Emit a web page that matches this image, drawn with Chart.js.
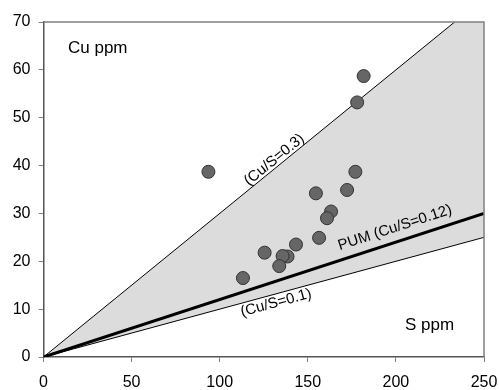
<!DOCTYPE html>
<html>
<head>
<meta charset="utf-8">
<script src="https://cdn.jsdelivr.net/npm/chart.js@4.4.1/dist/chart.umd.min.js"></script>
<style>
  html, body { margin: 0; padding: 0; background: #fff; }
  #wrap { width: 499px; height: 390px; }
</style>
</head>
<body>
<div id="wrap"><canvas id="cuS"></canvas></div>
<script>
// sample points (S ppm, Cu ppm)
const sPpm  = [181.7, 178, 93.6, 177, 154.6, 172.3, 163.2, 160.9, 156.4, 143.3, 125.5, 138.5, 135.7, 133.8, 113.2];
const cuPpm = [58.7, 53.2, 38.7, 38.7, 34.2, 34.9, 30.4, 29.0, 24.9, 23.5, 21.8, 21.0, 21.1, 19.0, 16.5];

// reference ratio lines (end points)
const line03X  = [0, 233.33, 250];
const line03Y  = [0, 70, 70];
const line012X = [0, 250];
const line012Y = [0, 30];
const line01X  = [0, 250];
const line01Y  = [0, 25];

// line labels: text, anchor x/y (data units), which line gives the angle
const lineLabels = [
  { text: '(Cu/S=0.3)', x: 131, y: 41.2, slope: 0.3 },
  { text: 'PUM (Cu/S=0.12)', x: 199.5, y: 27, slope: 0.12 },
  { text: '(Cu/S=0.1)', x: 132, y: 11.3, slope: 0.1 }
];

const xTicks = [0, 50, 100, 150, 200, 250];
const yTicks = [0, 10, 20, 30, 40, 50, 60, 70];

const pts = (xs, ys) => xs.map((x, i) => ({ x: x, y: ys[i] }));

const FONT = 'Liberation Sans, Arial, sans-serif';

const decor = {
  id: 'decor',
  afterDatasetsDraw(chart) {
    const { ctx, chartArea: a, scales: { x, y } } = chart;
    ctx.save();
    // frame top/right
    ctx.strokeStyle = '#808080';
    ctx.lineWidth = 1.5;
    ctx.beginPath();
    ctx.moveTo(a.left, a.top);
    ctx.lineTo(a.right, a.top);
    ctx.lineTo(a.right, a.bottom);
    ctx.stroke();

    ctx.fillStyle = '#000';
    ctx.font = '17px ' + FONT;
    ctx.textBaseline = 'middle';
    ctx.textAlign = 'left';
    ctx.fillText('Cu ppm', 68, 48);
    ctx.fillText('S ppm', 405, 325);

    // rotated labels along lines
    ctx.font = '15px ' + FONT;
    ctx.textAlign = 'center';
    lineLabels.forEach(l => {
      const px = x.getPixelForValue(l.x);
      const py = y.getPixelForValue(l.y);
      const dx = x.getPixelForValue(100) - x.getPixelForValue(0);
      const dy = y.getPixelForValue(100 * l.slope) - y.getPixelForValue(0);
      ctx.save();
      ctx.translate(px, py);
      ctx.rotate(Math.atan2(dy, dx));
      ctx.fillText(l.text, 0, 0);
      ctx.restore();
    });
    ctx.restore();
  }
};

new Chart(document.getElementById('cuS'), {
  type: 'scatter',
  data: {
    datasets: [
      {
        label: 'field',
        data: pts(line03X, line03Y),
        showLine: true,
        borderWidth: 0,
        borderColor: 'rgba(0,0,0,0)',
        backgroundColor: '#dcdcdc',
        pointRadius: 0,
        fill: 3,
        order: 5
      },
      {
        label: 'Cu/S=0.3',
        data: pts(line03X.slice(0, 2), line03Y.slice(0, 2)),
        showLine: true,
        borderColor: '#000',
        borderWidth: 1,
        pointRadius: 0,
        order: 3
      },
      {
        label: 'PUM',
        data: pts(line012X, line012Y),
        showLine: true,
        borderColor: '#000',
        borderWidth: 3,
        pointRadius: 0,
        order: 3
      },
      {
        label: 'Cu/S=0.1',
        data: pts(line01X, line01Y),
        showLine: true,
        borderColor: '#000',
        borderWidth: 1,
        pointRadius: 0,
        order: 3
      },
      {
        label: 'samples',
        data: pts(sPpm, cuPpm),
        backgroundColor: '#666666',
        borderColor: '#333333',
        borderWidth: 1,
        pointRadius: 6.5,
        order: 1
      }
    ]
  },
  options: {
    responsive: true,
    maintainAspectRatio: false,
    animation: false,
    layout: { padding: { top: 22, right: 15, left: 0, bottom: 0 } },
    plugins: { legend: { display: false }, tooltip: { enabled: false } },
    elements: { line: { tension: 0 } },
    scales: {
      x: {
        type: 'linear',
        min: 0, max: 250,
        afterBuildTicks: s => { s.ticks = xTicks.map(v => ({ value: v })); },
        afterFit: s => { s.height = 33; s.paddingLeft = 0; s.paddingRight = 0; },
        grid: { display: true, drawOnChartArea: false, drawTicks: true, tickLength: 5, color: '#808080' },
        border: { color: '#555', width: 1.5 },
        ticks: { color: '#000', font: { family: FONT, size: 16 }, padding: 11, maxRotation: 0 }
      },
      y: {
        type: 'linear',
        min: 0, max: 70,
        afterBuildTicks: s => { s.ticks = yTicks.map(v => ({ value: v })); },
        afterFit: s => { s.width = 43.5; s.paddingTop = 0; s.paddingBottom = 0; },
        grid: { display: true, drawOnChartArea: false, drawTicks: true, tickLength: 5, color: '#808080' },
        border: { color: '#555', width: 1.5 },
        ticks: { color: '#000', font: { family: FONT, size: 16 }, padding: 8 }
      }
    }
  },
  plugins: [decor]
});
</script>
</body>
</html>
